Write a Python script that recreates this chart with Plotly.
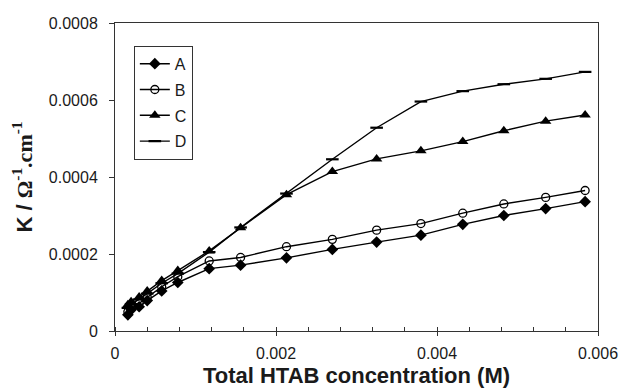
import plotly.graph_objects as go

conc = [0.00016, 0.0002, 0.0003, 0.0004, 0.00058, 0.00078, 0.00117, 0.00156,
        0.00213, 0.0027, 0.00325, 0.0038, 0.00432, 0.00483, 0.00535, 0.00584]
A = [0.000042, 0.000055, 0.000063, 0.000079, 0.000104, 0.000126, 0.000162, 0.000171,
     0.00019, 0.000212, 0.000231, 0.000249, 0.000277, 0.0003, 0.000318, 0.000336]
B = [0.00005, 0.000062, 0.000072, 0.000088, 0.000115, 0.000141, 0.000182, 0.000191,
     0.000219, 0.000238, 0.000262, 0.000279, 0.000306, 0.00033, 0.000347, 0.000365]
C = [0.000068, 0.000076, 0.000088, 0.000104, 0.000131, 0.000157, 0.000208, 0.000268,
     0.000354, 0.000414, 0.000447, 0.000468, 0.000492, 0.00052, 0.000545, 0.000561]
D = [0.00006, 0.00007, 0.000082, 0.000097, 0.000124, 0.000149, 0.000205, 0.000269,
     0.000357, 0.000446, 0.000528, 0.000596, 0.000623, 0.000641, 0.000655, 0.000673]

x_ticks = [0, 0.002, 0.004, 0.006]
x_labels = ["0", "0.002", "0.004", "0.006"]
y_ticks = [0, 0.0002, 0.0004, 0.0006, 0.0008]
y_labels = ["0", "0.0002", "0.0004", "0.0006", "0.0008"]

series = [
    ("A", A, dict(symbol="diamond", size=9, color="black")),
    ("B", B, dict(symbol="circle-open", size=8, color="black", line=dict(width=1.3))),
    ("C", C, dict(symbol="triangle-up", size=10, color="black")),
    ("D", D, dict(symbol="line-ew", size=9, color="black", line=dict(width=2.2, color="black"))),
]

fig = go.Figure()
for name, vals, mk in series:
    fig.add_trace(go.Scatter(x=conc, y=vals, name=name, mode="lines+markers",
                             legendgroup=name,
                             line=dict(color="black", width=1.4), marker=mk))

y_title = ('<b>K / <span style="font-family:Liberation Serif">Ω<sup>-1</sup>.cm<sup>-1</sup></span></b>')

fig.update_layout(
    width=622, height=392,
    margin=dict(l=115, r=24, t=23, b=61),
    paper_bgcolor="white", plot_bgcolor="white",
    font=dict(family="Liberation Sans, Arial, sans-serif", size=16, color="#1a1a1a"),
    legend=dict(x=0.039, y=0.926, xanchor="left", yanchor="top",
                bordercolor="#333", borderwidth=1, bgcolor="white",
                font=dict(size=16), tracegroupgap=2, itemwidth=30),
    showlegend=True,
)
fig.update_xaxes(
    range=[0, 0.006], tickvals=x_ticks, ticktext=x_labels,
    ticks="outside", ticklen=4, tickcolor="#333", ticklabelstandoff=4,
    minor=dict(dtick=0.0004, tick0=0, ticks="inside", ticklen=4, tickcolor="#333"),
    showline=True, linecolor="#333", linewidth=1, mirror=True,
    showgrid=False, zeroline=False, automargin=False,
    title=dict(text="<b>Total HTAB concentration (M)</b>", font=dict(size=22), standoff=6),
)
fig.update_yaxes(
    range=[0, 0.0008], tickvals=y_ticks, ticktext=y_labels,
    ticks="outside", ticklen=5, tickcolor="#333", ticklabelstandoff=8,
    showline=True, linecolor="#333", linewidth=1, mirror=True,
    showgrid=False, zeroline=False, automargin=False,
    title=dict(text=y_title, font=dict(size=22), standoff=10),
)

fig.write_html("out.html", config={"displayModeBar": False},
               post_script="document.body.style.margin='0';")
